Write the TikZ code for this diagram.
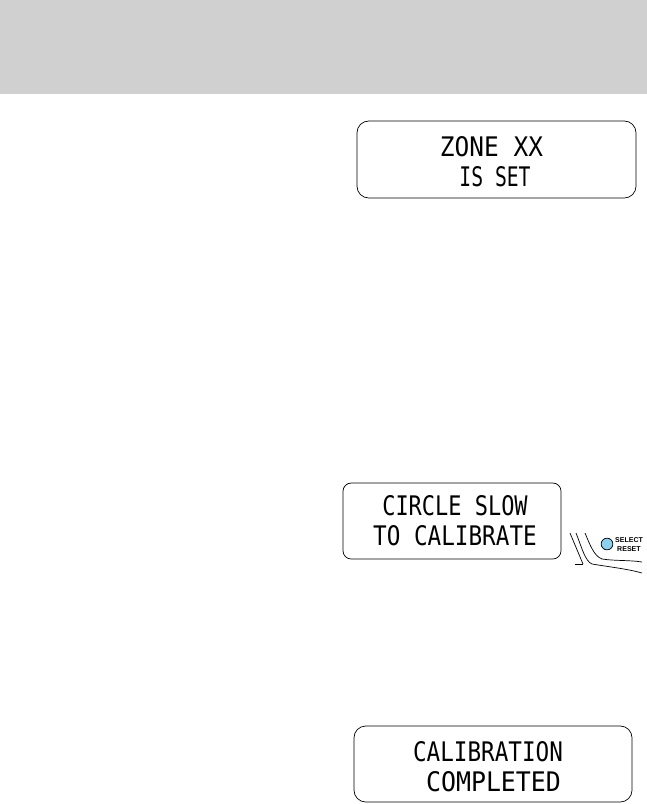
\documentclass[tikz,border=0pt]{standalone}
\usepackage{fontspec}
\setsansfont{Liberation Sans}
\newfontfamily\lcdfont{DejaVu Sans Mono}
\usetikzlibrary{positioning}
\definecolor{bandgray}{RGB}{208,208,208}
\definecolor{btnblue}{RGB}{140,208,240}

\begin{document}
\begin{tikzpicture}[
    x=0.03cm, y=-0.03cm,
    display/.style={draw, rounded corners=10pt, line width=0.6pt, inner sep=0pt},
    lcd/.style={font=\lcdfont\fontsize{23}{23}\selectfont, xscale=0.84, transform shape, inner sep=0pt},
    btn label/.style={font=\sffamily\bfseries\fontsize{6}{6}\selectfont, inner sep=0pt, align=center},
    bezel/.style={line width=0.6pt}
]

% Page band
\useasboundingbox (0,0) rectangle (647,804);
\fill[bandgray] (0,0) rectangle (647,94);

% Zone display
\draw[display] (357,121) rectangle (636,198);
\node[lcd, xscale=1.08] (zone) at (491.5,147) {ZONE XX};
\node[lcd, xscale=0.87] (isset) at (495,177) {IS SET};

% Calibrate display
\draw[display, rounded corners=7pt] (343,483) rectangle (561,559);
\node[lcd, xscale=0.97] (circle) at (455,506) {CIRCLE SLOW};
\node[lcd] (calib) at (455,536) {TO CALIBRATE};

% Select button
\node[draw, circle, fill=btnblue, line width=0.6pt, minimum size=10pt, inner sep=0pt] (btn) at (607,544) {};
\node[btn label, anchor=west] (sel) at (615,540) {SELECT};
\node[btn label, anchor=west] (rst) at (617,549) {RESET};
\draw[bezel] (570,533) -- (583,564);
\draw[bezel] (576,533) .. controls (582,548) and (585,561) .. (592,564) .. controls (610,567) and (628,569) .. (642,573);
\draw[bezel] (585,533) .. controls (590,545) and (594,556) .. (602,559) .. controls (615,561) and (630,560) .. (642,562);
\draw[bezel] (575,564) -- (583,564);

% Completed display
\draw[display] (354,726) rectangle (632,802);
\node[lcd] (calibration) at (488,752) {CALIBRATION};
\node[lcd, xscale=1.1] (done) at (493.5,782) {COMPLETED};
\end{tikzpicture}
\end{document}
